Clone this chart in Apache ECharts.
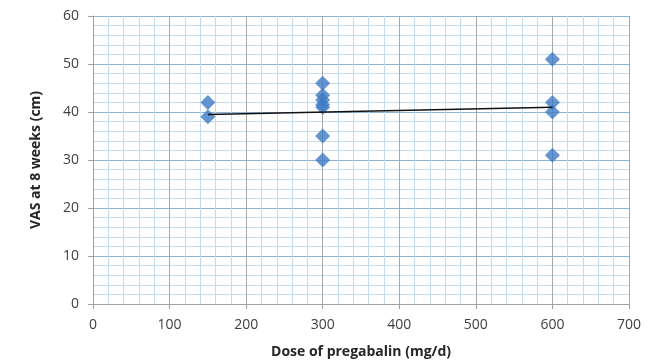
<!DOCTYPE html>
<html>
<head>
<meta charset="utf-8">
<script src="https://cdn.jsdelivr.net/npm/echarts@6/dist/echarts.min.js"></script>
<style>
  html, body { margin: 0; padding: 0; background: #fff; }
  #chart { width: 659px; height: 363px; }
</style>
</head>
<body>
<div id="chart"></div>
<script>
// dose (mg/d) and VAS at 8 weeks (cm)
var doses = [150, 150, 300, 300, 300, 300, 300, 300, 300, 600, 600, 600, 600];
var vas = [42, 39, 46, 43.5, 42.5, 41.5, 41, 35, 30, 51, 42, 40, 31];
// linear trend line end points
var trendX = [150, 600];
var trendY = [39.5, 41.0];

var chart = echarts.init(document.getElementById("chart"));

var labelFont = {
  color: "#404040",
  fontSize: 14,
  fontFamily: "Open Sans"
};

chart.setOption({
  backgroundColor: "#FFFFFF",
  animation: false,
  grid: {
    left: 93,
    right: 30,
    top: 16,
    bottom: 59,
    outerBoundsMode: "none"
  },
  xAxis: {
    type: "value",
    min: 0,
    max: 700,
    interval: 100,
    name: "Dose of pregabalin (mg/d)",
    nameLocation: "middle",
    nameGap: 41,
    nameTextStyle: {
      color: "#262626",
      fontSize: 14,
      fontWeight: "bold",
      fontFamily: "Open Sans"
    },
    axisLine: { lineStyle: { color: "#a0a0a0" } },
    axisTick: { show: true, length: 5, lineStyle: { color: "#a0a0a0" } },
    axisLabel: Object.assign({ margin: 14 }, labelFont),
    splitLine: { lineStyle: { color: "#a8a8a8", width: 1 } },
    minorTick: { show: false, splitNumber: 5 },
    minorSplitLine: { show: true, lineStyle: { color: "#c6dbeb", width: 1 } }
  },
  yAxis: {
    type: "value",
    min: 0,
    max: 60,
    interval: 10,
    name: "VAS at 8 weeks (cm)",
    nameLocation: "middle",
    nameGap: 50,
    nameTextStyle: {
      color: "#262626",
      fontSize: 14,
      fontWeight: "bold",
      fontFamily: "Open Sans"
    },
    axisLine: { show: true, lineStyle: { color: "#a0a0a0" } },
    axisTick: { show: true, length: 5, lineStyle: { color: "#a0a0a0" } },
    axisLabel: Object.assign({ margin: 14 }, labelFont),
    splitLine: { lineStyle: { color: "#8fb3d3", width: 1 } },
    minorTick: { show: false, splitNumber: 5 },
    minorSplitLine: { show: true, lineStyle: { color: "#c6dbeb", width: 1 } }
  },
  series: [
    {
      name: "VAS",
      type: "scatter",
      symbol: "diamond",
      symbolSize: 15,
      itemStyle: { color: "#3f7bc4" },
      data: doses.map(function(d, i) {
        return [d, vas[i]];
      }),
      z: 3
    },
    {
      name: "Trend",
      type: "line",
      symbol: "none",
      lineStyle: { color: "#111111", width: 1.5 },
      data: trendX.map(function(d, i) {
        return [d, trendY[i]];
      }),
      z: 4
    }
  ]
});
</script>
</body>
</html>
